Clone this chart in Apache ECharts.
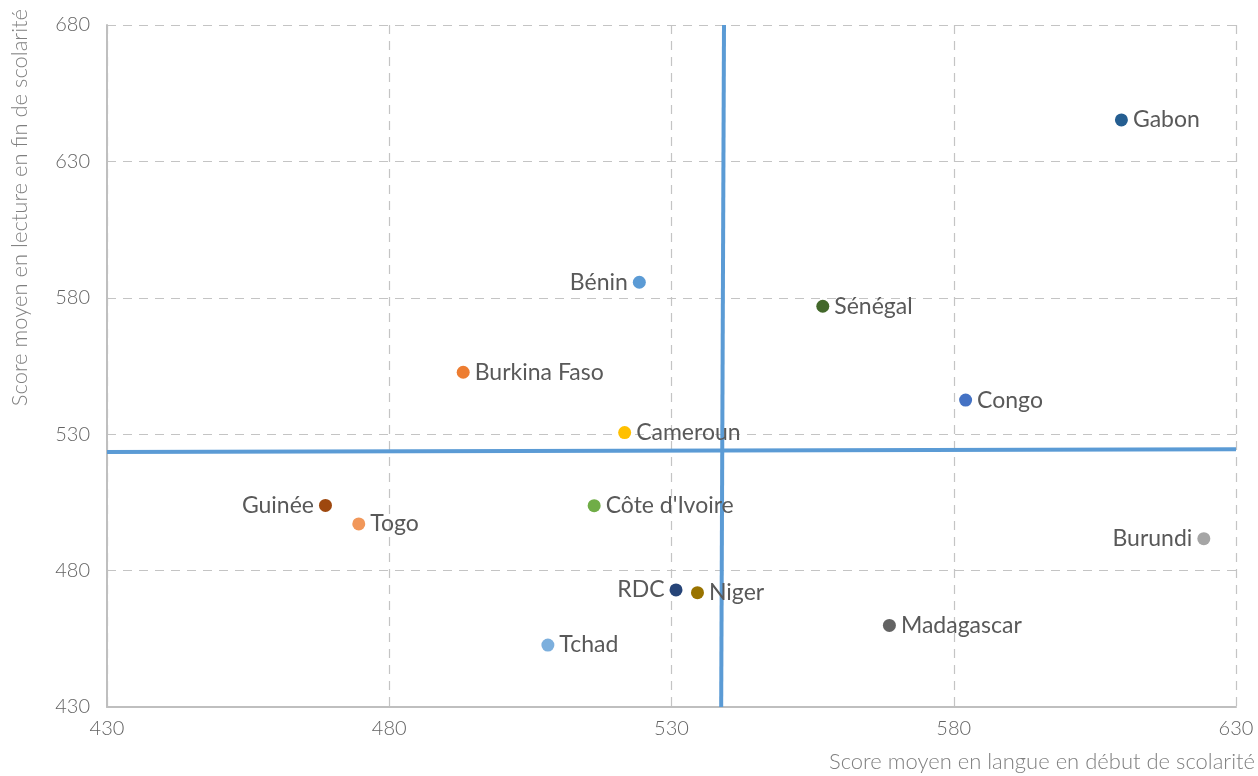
<!DOCTYPE html>
<html>
<head>
<meta charset="utf-8">
<script src="https://cdn.jsdelivr.net/npm/echarts@6/dist/echarts.min.js"></script>
<style>
html,body{margin:0;padding:0;background:#fff;}
#chart{width:1258px;height:776px;}
</style>
</head>
<body>
<div id="chart"></div>
<script>
// Data
const countries = ['Gabon','Bénin','Sénégal','Burkina Faso','Congo','Cameroun','Guinée','Togo',"Côte d'Ivoire",'Burundi','RDC','Niger','Madagascar','Tchad'];
const langueDebut = [609.7, 524.3, 556.8, 493.1, 582.1, 521.7, 468.7, 474.6, 516.3, 624.3, 530.8, 534.6, 568.6, 508.1];
const lectureFin  = [645.2, 585.7, 576.9, 552.7, 542.5, 530.6, 503.9, 497.1, 503.8, 491.7, 472.9, 471.9, 459.9, 452.7];
const colors = ['#255e91','#5b9bd5','#43682b','#ed7d31','#4472c4','#ffc000','#9e480e','#f1975a','#70ad47','#a5a5a5','#264478','#997300','#636363','#7cafdd'];
const leftLabelled = ['Bénin','Guinée','RDC','Burundi'];
// Reference lines (means)
const vLineX = [539.3, 538.8];
const vLineY = [680, 430];
const hLineX = [430, 630];
const hLineY = [523.5, 524.5];
const xTicks = [430, 480, 530, 580, 630];
const yTicks = [430, 480, 530, 580, 630, 680];

const FONT = 'Lato, "Open Sans", sans-serif';
const chart = echarts.init(document.getElementById('chart'));

const scatterData = countries.map((c, i) => ({
  name: c,
  value: [langueDebut[i], lectureFin[i]],
  itemStyle: { color: colors[i], opacity: 1 },
  label: { position: leftLabelled.includes(c) ? 'left' : 'right' }
}));

const gridStyle = { show: true, lineStyle: { color: '#c4c4c4', width: 1.2, type: [9, 7] } };

chart.setOption({
  animation: false,
  backgroundColor: '#ffffff',
  grid: { left: 107, right: 21, top: 25, bottom: 69, containLabel: false },
  xAxis: {
    type: 'value',
    min: xTicks[0], max: xTicks[xTicks.length - 1], interval: 50,
    axisLine: { show: true, onZero: false, lineStyle: { color: '#bfbfbf', width: 2 } },
    axisTick: { show: false },
    splitLine: gridStyle,
    axisLabel: { color: '#636363', fontFamily: FONT, fontWeight: 300, fontSize: 20, margin: 12 },
    name: 'Score moyen en langue en début de scolarité',
    nameLocation: 'end',
    nameGap: 19,
    nameTextStyle: { color: '#7f7f7f', fontFamily: FONT, fontWeight: 300, fontSize: 22, align: 'right', verticalAlign: 'top', padding: [44, 0, 0, 0] }
  },
  yAxis: {
    type: 'value',
    min: yTicks[0], max: yTicks[yTicks.length - 1], interval: 50,
    axisLine: { show: true, onZero: false, lineStyle: { color: '#bfbfbf', width: 2 } },
    axisTick: { show: false },
    splitLine: gridStyle,
    axisLabel: { color: '#636363', fontFamily: FONT, fontWeight: 300, fontSize: 20, margin: 17 }
  },
  graphic: [{
    type: 'text',
    x: 9, y: 9,
    rotation: Math.PI / 2,
    style: {
      text: 'Score moyen en lecture en fin de scolarité',
      fill: '#7f7f7f',
      font: '300 22px ' + FONT,
      textAlign: 'right',
      textVerticalAlign: 'top'
    }
  }],
  series: [
    {
      type: 'line',
      data: [[vLineX[0], vLineY[0]], [vLineX[1], vLineY[1]]],
      symbol: 'none',
      lineStyle: { color: '#5b9bd5', width: 4 },
      z: 3
    },
    {
      type: 'line',
      data: [[hLineX[0], hLineY[0]], [hLineX[1], hLineY[1]]],
      symbol: 'none',
      lineStyle: { color: '#5b9bd5', width: 4 },
      z: 3
    },
    {
      type: 'scatter',
      data: scatterData,
      symbolSize: 13,
      z: 5,
      label: {
        show: true,
        formatter: p => p.name,
        color: '#595959',
        fontFamily: FONT,
        fontSize: 23,
        distance: 5
      }
    }
  ]
});
</script>
</body>
</html>
